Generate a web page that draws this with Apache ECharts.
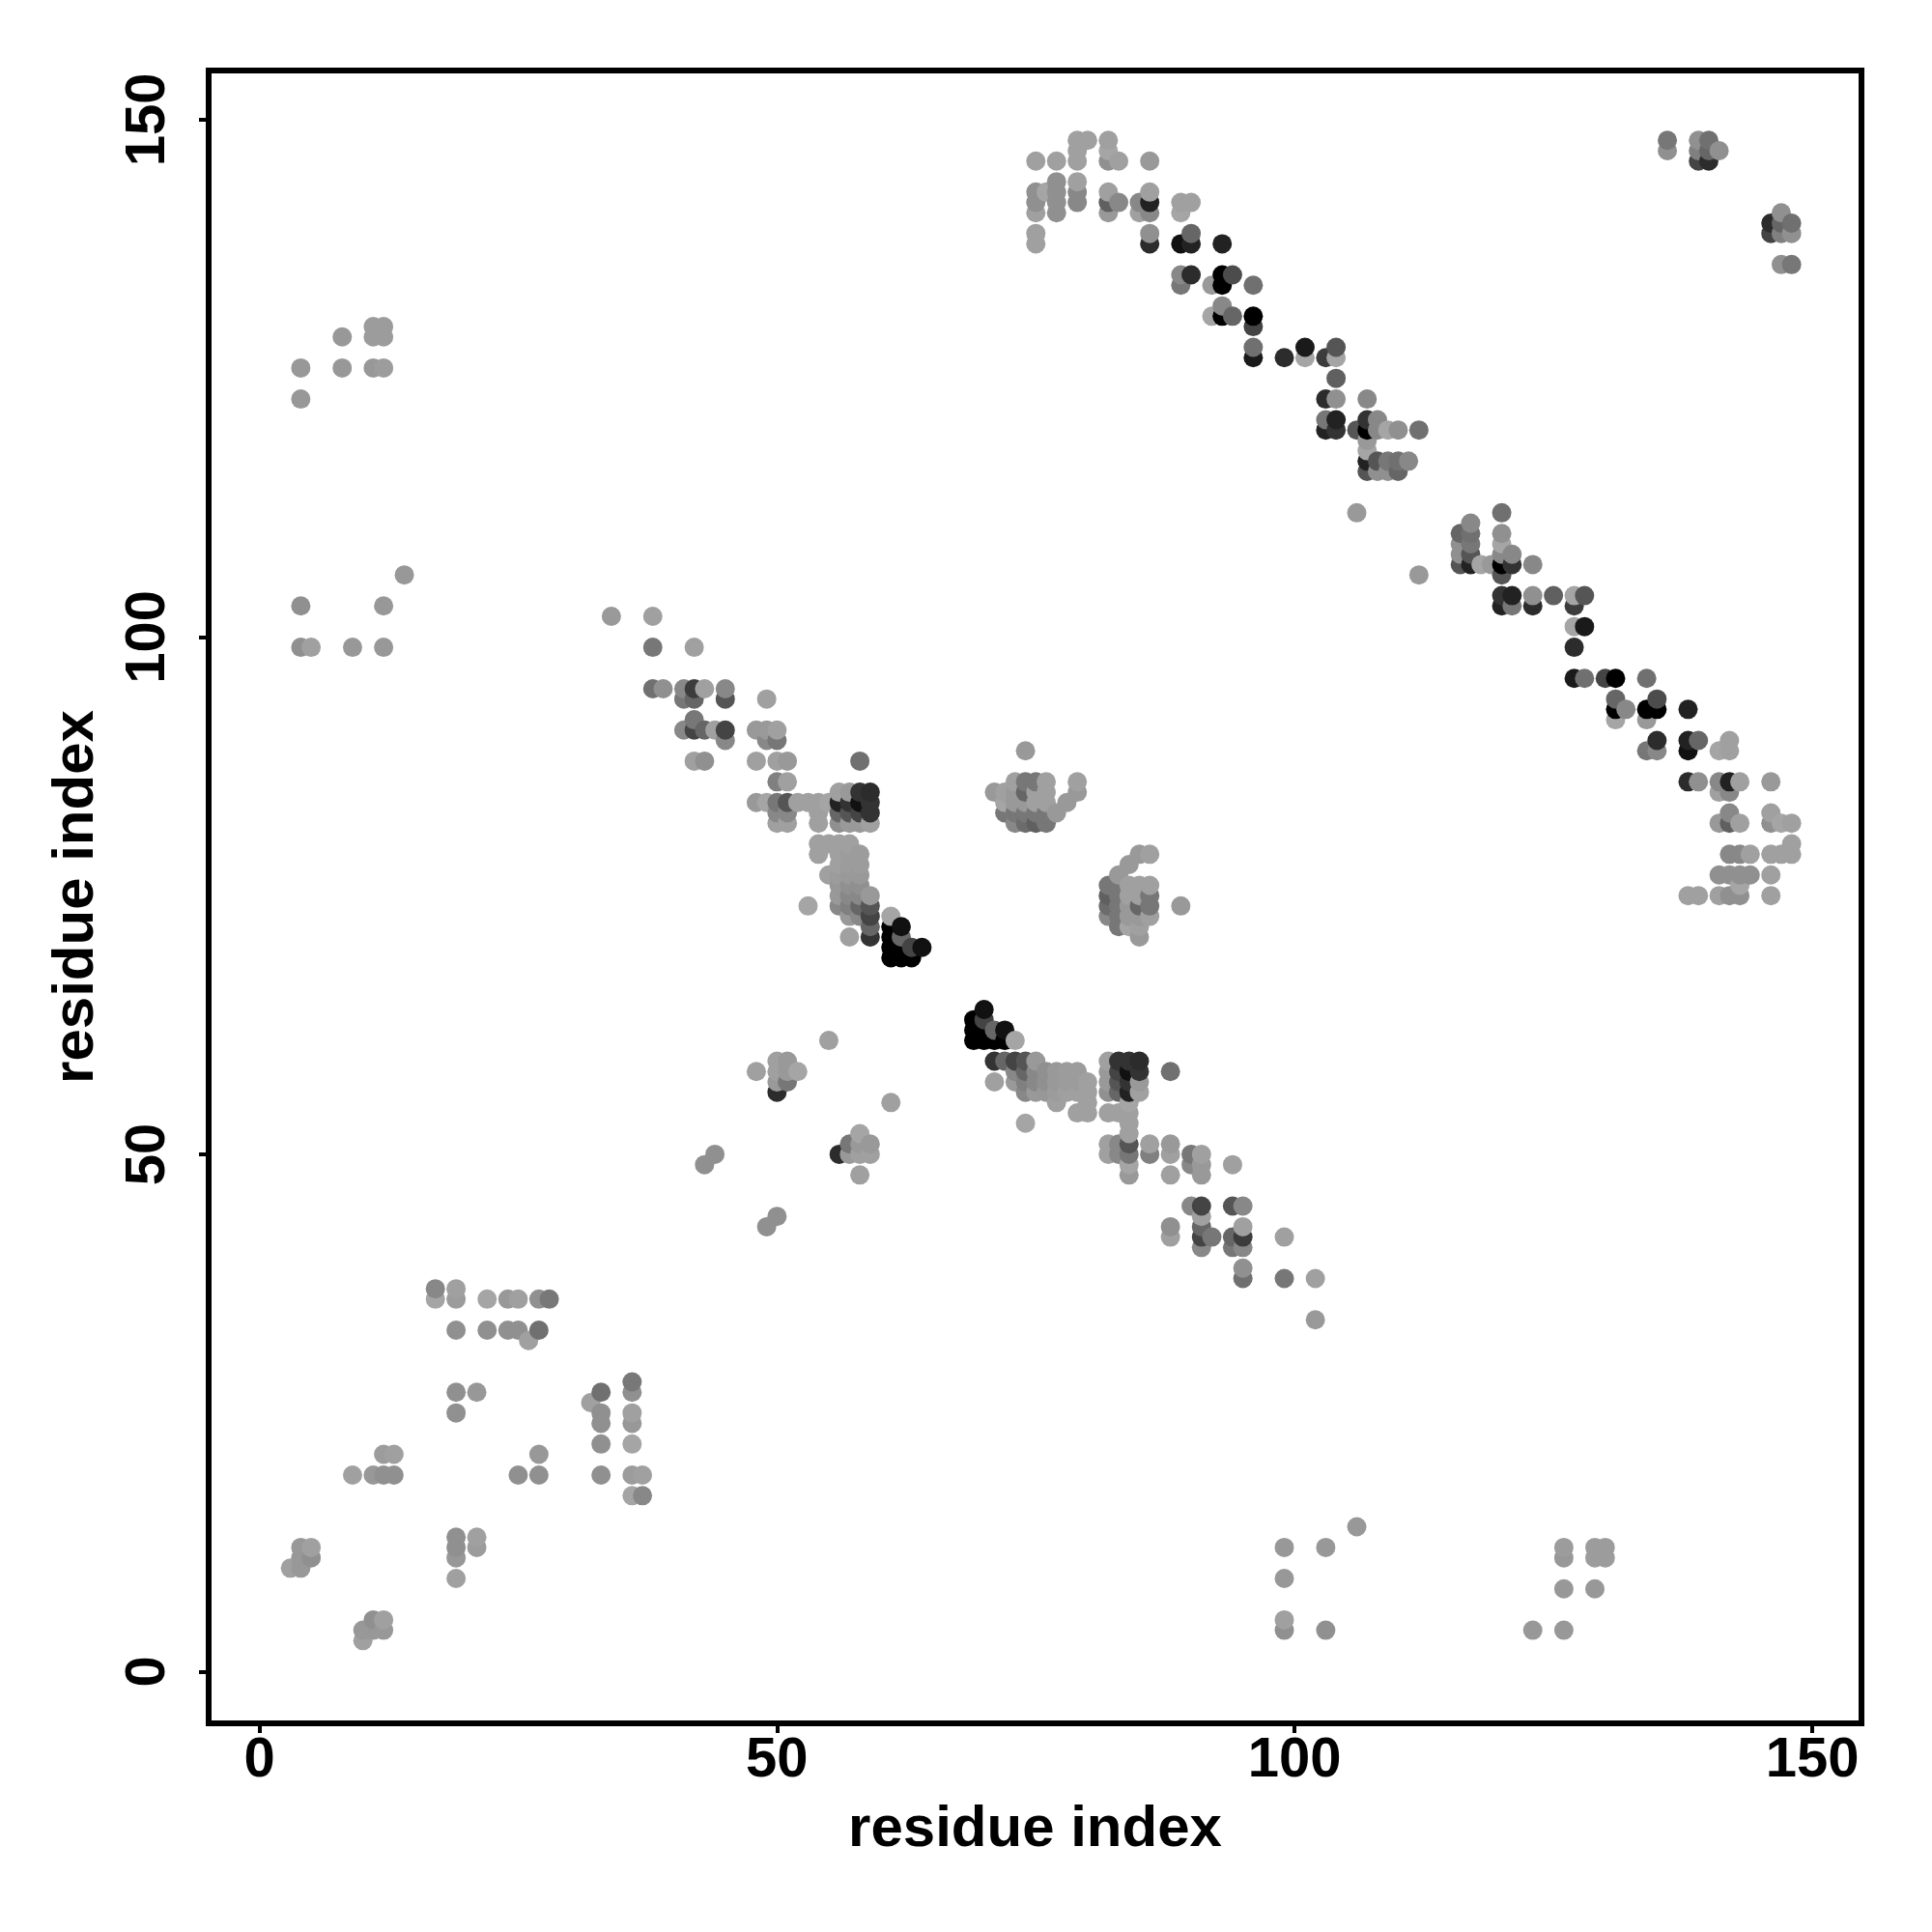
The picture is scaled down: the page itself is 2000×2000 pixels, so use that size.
<!DOCTYPE html>
<html>
<head>
<meta charset="utf-8">
<style>html,body{margin:0;padding:0;background:#fff}#c{width:2000px;height:2000px}</style>
<script src="https://cdn.jsdelivr.net/npm/echarts@6/dist/echarts.min.js"></script>
</head>
<body>
<div id="c"></div>
<script>
// Contact map: each triple is [residue i, residue j, gray level], i < j.
const nTerminalContacts = [
[3,10,0xa0],[4,10,0x98],[4,11,0x98],[4,12,0x98],[5,11,0x90],[5,12,0xa0],
[9,19,0xa0],[11,19,0x98],[12,19,0x90],[13,19,0x90],[12,21,0x9c],[13,21,0xa0],
[19,25,0x90],[19,27,0x90],[21,27,0x98],[19,33,0x90],[19,36,0x9c],[19,37,0xa0],
[17,36,0xa5],[17,37,0x88],[22,33,0x90],[22,36,0xa5],[24,33,0x90],[24,36,0x98],
[25,33,0x90],[25,36,0xa0],[26,32,0xa0],[27,33,0x70],[27,36,0x90],[28,36,0x78]
];
const longRangeContacts = [
[4,99,0x90],[5,99,0xa0],[9,99,0x98],[12,99,0x98],[4,103,0x90],[12,103,0x98],[14,106,0x98],
[4,123,0x98],[4,126,0x98],[8,126,0x98],[11,126,0x98],[12,126,0x9c],
[8,129,0x98],[11,129,0x9c],[12,129,0x9c],[11,130,0x9c],[12,130,0x9c]
];
const strandContacts = [
[34,102,0x99],[38,102,0xa0],[38,99,0x80],[42,99,0xa0],
[38,95,0x70],[39,95,0x90],[41,95,0x88],[42,95,0x33],[43,95,0xa0],[45,95,0x88],
[41,94,0x66],[42,94,0x55],[45,94,0x50],[49,94,0xa0],[42,92,0x80],
[41,91,0x88],[42,91,0x33],[43,91,0x66],[44,91,0x99],[45,91,0x44],[48,91,0x99],[49,91,0x99],[50,91,0xa0],
[45,90,0x80],[49,90,0x88],[50,90,0x77],
[42,88,0xa5],[43,88,0x90],[48,88,0xa0],[50,88,0xa0],[51,88,0x99],[58,88,0x70],
[50,86,0x80],[51,86,0xa0],
[56,85,0xa0],[57,85,0x99],[58,85,0x33],[59,85,0x2c],
[48,84,0x99],[49,84,0xa5],[50,84,0x77],[51,84,0x55],[52,84,0xa0],[53,84,0xa0],[54,84,0xa0],[55,84,0xa5],
[56,84,0x22],[57,84,0x33],[58,84,0x11],[59,84,0x33],
[50,83,0x88],[51,83,0x88],[54,83,0xa0],[56,83,0x66],[57,83,0x55],[58,83,0x44],[59,83,0x33],
[50,82,0xa0],[51,82,0xa0],[54,82,0xa0],[56,82,0x90],[57,82,0x99],[58,82,0x99],[59,82,0xa0]
];
const helixContacts = [
[54,80,0xa0],[55,80,0xa0],[56,80,0xa0],[57,80,0xa0],
[54,79,0xa0],[56,79,0xa0],[57,79,0x9c],[58,79,0x9c],
[56,78,0xa0],[57,78,0x9c],[58,78,0x9c],
[55,77,0xa0],[56,77,0x9c],[57,77,0x99],[58,77,0x99],
[56,76,0x98],[57,76,0x90],[58,76,0x90],
[56,75,0x99],[57,75,0x88],[58,75,0x88],[59,75,0x99],
[53,74,0xa5],[56,74,0x88],[57,74,0x80],[58,74,0x66],[59,74,0x55],
[57,73,0x99],[58,73,0x88],[59,73,0x44],[61,73,0xa5],
[59,72,0x66],[62,72,0x11],[61,72,0x00],
[57,71,0xa0],[59,71,0x33],[61,71,0x00],[62,71,0x66],
[61,70,0x00],[62,70,0x00],[63,70,0x44],[64,70,0x11],
[61,69,0x00],[62,69,0x00],[63,69,0x00]
];
const sheetContacts = [
[43,49,0x90],[44,50,0x90],[48,58,0xa0],[50,56,0x2c],[50,57,0x99],[51,57,0x77],
[50,58,0xa0],[51,58,0x99],[52,58,0xa5],[50,59,0xa0],[51,59,0x99],[55,61,0xa0]
];
const domainClusterContacts = [
[74,89,0x99],[71,85,0x99],[72,83,0x77],[72,84,0xa5],[72,85,0xa0],
[73,82,0x88],[73,83,0x77],[73,84,0x99],[73,85,0x99],[73,86,0xa0],
[74,82,0x6c],[74,83,0x77],[74,84,0x99],[74,85,0x66],[74,86,0x77],
[75,82,0x60],[75,83,0x77],[75,84,0xa0],[75,85,0xa0],[75,86,0x77],
[76,82,0x77],[76,83,0x77],[76,84,0xa0],[76,85,0xa0],[76,86,0xa0],
[77,83,0x99],[78,84,0x99],[79,85,0x99],[79,86,0xa0]
];
const midRangeContacts = [
[45,90,0x88],[45,91,0x44],[45,94,0x55],[45,95,0x88],[44,91,0xa0],[43,91,0x66],[43,88,0x90],[42,88,0xa0],
[42,91,0x44],[42,92,0x77],[42,94,0x66],[43,95,0xa0],[42,95,0x3c],[41,91,0x88],[41,94,0x77],[41,95,0x88],
[42,99,0xa0],[39,95,0x90],[38,95,0x70],[38,99,0x77],[38,102,0xa0],[34,102,0x99],
[50,90,0x77],[49,90,0x88],[49,91,0x99],[49,94,0xa0]
];
const betaLadderContacts = [
[79,148,0xa0],[80,148,0xa0],[82,148,0xa0],[79,147,0xa5],[82,147,0xa5],
[75,146,0xa0],[77,146,0xa0],[79,146,0x99],[82,146,0x90],[83,146,0xa0],[86,146,0x99],
[77,144,0x99],[79,144,0xa0],
[75,143,0x99],[76,143,0xa5],[77,143,0x99],[79,143,0x90],[82,143,0xa0],[86,143,0xa5],
[75,142,0x99],[77,142,0x99],[79,142,0x88],[82,142,0x6c],[83,142,0x90],[85,142,0x99],[86,142,0x2c],[89,142,0xa5],[90,142,0xa0],
[75,141,0xa0],[77,141,0xa0],[82,141,0xa0],[85,141,0xa5],[86,141,0x88],[89,141,0xa5],
[75,139,0xa0],[86,139,0xa0],[90,139,0x70],
[75,138,0xa5],[86,138,0x2c],[89,138,0x1a],[90,138,0x2c],[93,138,0x2c],
[89,135,0x90],[90,135,0x2c],[93,135,0x0a],[94,135,0x55],
[89,134,0x77],[92,134,0xa5],[93,134,0x00],[96,134,0x70],
[93,132,0x88],[92,131,0xa5],[93,131,0x00],[94,131,0x66],[96,131,0x00],[96,130,0x44],
[96,128,0x70],[101,128,0x22],[104,128,0x55],
[96,127,0x1a],[99,127,0x2c],[101,127,0xa5],[103,127,0x33],[104,127,0xa5],[104,125,0x60],
[103,123,0x2c],[104,123,0x90],[107,123,0x88],
[103,121,0x77],[104,121,0x22],[107,121,0x33],[108,121,0x88],
[103,120,0x22],[104,120,0x33],[106,120,0x55],[107,120,0x00],[108,120,0x88],[109,120,0xa5],[110,120,0x90],[112,120,0x70],
[107,119,0x88],[107,118,0xa5],
[107,117,0x22],[108,117,0x55],[109,117,0x77],[110,117,0x70],[111,117,0x88],
[107,116,0x55],[108,116,0x99],[109,116,0x99],[110,116,0x70],[106,112,0x99]
];
const cTerminalContacts = [
[136,148,0x77],[136,147,0x90],[139,148,0x90],[140,148,0x70],[139,147,0x80],[140,147,0x66],[141,147,0x90],
[139,146,0x44],[140,146,0x2c],
[110,116,0x66],[111,117,0x88],
[112,120,0x70],[110,120,0x90],[109,120,0xa5],[108,120,0x88],[108,121,0x88],
[109,116,0x90],[108,116,0x90],
[107,118,0xa5],[107,119,0x99],[107,121,0x33],[107,123,0x88],
[104,123,0x90],[104,125,0x60],[104,127,0xa5],[104,128,0x55],[103,127,0x3c],[101,128,0x1a],[101,127,0xa5],
[99,127,0x2c],[96,127,0x1a],[96,128,0x70],[96,130,0x44],[96,131,0x00],[96,134,0x70],
[94,131,0x66],[94,135,0x4c],[93,131,0x00],[93,132,0x88],[93,134,0x00],[93,135,0x00],[93,138,0x22],
[92,131,0xa5],[92,134,0x99],[90,135,0x2c],[90,138,0x22],[90,139,0x66],[90,142,0xa0],
[89,134,0x77],[89,135,0x88],[89,138,0x11],[89,141,0xa5],[89,142,0xa0],
[86,138,0x2c],[86,139,0x90],[86,141,0x88],[86,142,0x22],[86,143,0xa0],[86,146,0x99],
[85,141,0xa0],[85,142,0x88],[83,142,0x88],[83,146,0xa0],
[82,141,0x99],[82,142,0x60],[82,143,0xa0],[82,146,0x90],[82,147,0xa5],[82,148,0xa0],
[80,148,0xa0],[79,142,0x88],[79,143,0x88],[79,144,0xa0],[79,146,0xa0],[79,147,0xa0],[79,148,0xa0],
[77,141,0x90],[77,142,0x90],[77,143,0x90],[77,144,0x90],[77,146,0xa0],[76,143,0xa5],
[75,138,0xa0],[75,139,0xa0],[75,141,0xa0],[75,142,0x90],[75,143,0x90],[75,146,0xa0]
];
const axisTicks = [0, 50, 100, 150];
const axisTitle = 'residue index';

// The map is symmetric: each contact (i,j) also appears as (j,i) with the same gray level.
// Where a contact was read in more than one list, the later reading wins.
const byKey = new Map();
[nTerminalContacts, longRangeContacts, strandContacts, helixContacts, sheetContacts,
 domainClusterContacts, midRangeContacts, betaLadderContacts, cTerminalContacts].forEach(list => {
  list.forEach(t => {
    byKey.set(t[0] + ',' + t[1], [t[0], t[1], t[2]]);
    byKey.set(t[1] + ',' + t[0], [t[1], t[0], t[2]]);
  });
});
const points = Array.from(byKey.values()).sort((a, b) => a[0] - b[0] || a[1] - b[1]);

const font = '"Liberation Sans", Arial, sans-serif';
function axis(extra) {
  return Object.assign({
    type: 'value',
    splitLine: { show: false },
    axisLine: { show: false, onZero: false },
    axisTick: { show: true, length: 10, customValues: axisTicks, lineStyle: { color: '#000', width: 4 } },
    name: axisTitle,
    nameLocation: 'middle',
    nameTextStyle: { fontFamily: font, fontWeight: 'bold', fontSize: 60, color: '#000' }
  }, extra);
}
const chart = echarts.init(document.getElementById('c'), null, { renderer: 'canvas', width: 2000, height: 2000 });
chart.setOption({
  animation: false,
  backgroundColor: '#fff',
  grid: { show: true, left: 216, top: 73, width: 1711, height: 1711, borderColor: '#000', borderWidth: 6, backgroundColor: 'transparent' },
  xAxis: axis({
    min: -4.9, max: 154.75, nameGap: 80,
    axisLabel: { customValues: axisTicks, margin: 10, fontFamily: font, fontWeight: 'bold', fontSize: 58, color: '#000' }
  }),
  yAxis: axis({
    min: -5, max: 154.75, nameGap: 107,
    axisLabel: { customValues: axisTicks, rotate: 90, margin: 33, fontFamily: font, fontWeight: 'bold', fontSize: 58, color: '#000' }
  }),
  series: [{
    type: 'scatter',
    data: points,
    symbol: 'circle',
    symbolSize: 20,
    progressive: 0,
    large: false,
    encode: { x: 0, y: 1 },
    itemStyle: {
      opacity: 1,
      color: p => { const g = p.value[2]; return 'rgb(' + g + ',' + g + ',' + g + ')'; }
    },
    emphasis: { disabled: true }
  }]
});
</script>
</body>
</html>
